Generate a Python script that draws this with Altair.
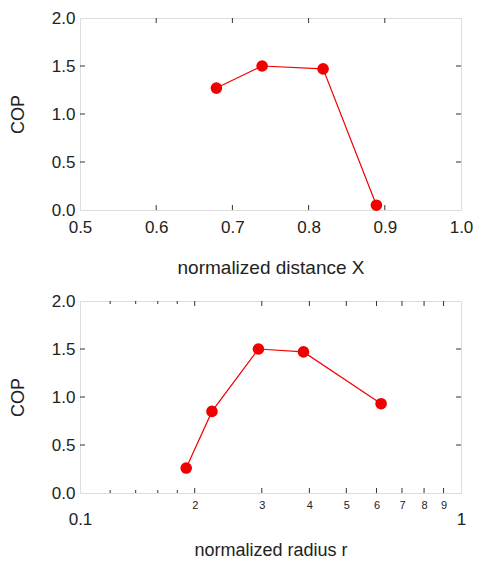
import altair as alt
import pandas as pd

# --- data ---
dist_x = [0.679, 0.739, 0.819, 0.889]
dist_cop = [1.27, 1.50, 1.47, 0.05]

rad_r = [0.190, 0.222, 0.294, 0.386, 0.617]
rad_cop = [0.26, 0.85, 1.50, 1.47, 0.93]

dist_tick_vals = [0.6, 0.7, 0.8, 0.9]
dist_label_vals = [0.5, 0.6, 0.7, 0.8, 0.9, 1.0]
y_tick_vals = [0.5, 1.0, 1.5]
y_label_vals = [0.0, 0.5, 1.0, 1.5, 2.0]
log_major = [0.2, 0.3, 0.4, 0.5, 0.6, 0.7, 0.8, 0.9]
log_minor = [0.12, 0.14, 0.16, 0.18]
log_label_vals = [0.1, 0.2, 0.3, 0.4, 0.5, 0.6, 0.7, 0.8, 0.9, 1.0]

W, H = 381, 192
RED = "#f00000"
FONT = "Liberation Sans"
TXT = "#222222"

y_scale = alt.Scale(domain=[0, 2], nice=False, zero=False)

y_axis = alt.Axis(title="COP", values=y_label_vals, format=".1f", domain=False,
                  ticks=False, tickSize=0, grid=False, labelFont=FONT,
                  labelFontSize=17, labelColor=TXT, labelPadding=5,
                  titleFont=FONT, titleFontSize=18, titleFontWeight="normal",
                  titleColor=TXT, titlePadding=24, labelFlush=False)


def tick_layers(xfield_vals, xscale, xaxis, major_len, minor_vals=None):
    layers = []
    xt = pd.DataFrame({"v": xfield_vals})
    for y0, y1 in [(H, H - major_len), (0, major_len)]:
        layers.append(
            alt.Chart(xt).mark_rule(color="#333", strokeWidth=1).encode(
                x=alt.X("v:Q", scale=xscale, axis=xaxis),
                y=alt.value(y0), y2=alt.value(y1)))
    if minor_vals:
        mt = pd.DataFrame({"v": minor_vals})
        for y0, y1 in [(H, H - 3), (0, 3)]:
            layers.append(
                alt.Chart(mt).mark_rule(color="#333", strokeWidth=1).encode(
                    x=alt.X("v:Q", scale=xscale, axis=xaxis),
                    y=alt.value(y0), y2=alt.value(y1)))
    yt = pd.DataFrame({"v": y_tick_vals})
    for x0, x1 in [(0, 5), (W, W - 5)]:
        layers.append(
            alt.Chart(yt).mark_rule(color="#333", strokeWidth=1).encode(
                y=alt.Y("v:Q", scale=y_scale, axis=y_axis),
                x=alt.value(x0), x2=alt.value(x1)))
    return layers


# ---- top panel ----
top_df = pd.DataFrame({"x": dist_x, "cop": dist_cop})
top_xscale = alt.Scale(domain=[0.5, 1.0], nice=False, zero=False)
top_xaxis = alt.Axis(title="normalized distance  X", values=dist_label_vals,
                     format=".1f", domain=False, ticks=False, tickSize=0,
                     grid=False, labelFont=FONT, labelFontSize=17,
                     labelColor=TXT, labelPadding=9, labelFlush=False,
                     labelOverlap=False, titleFont=FONT, titleFontSize=19,
                     titleFontWeight="normal", titleColor=TXT, titlePadding=23)
top_base = alt.Chart(top_df).encode(
    x=alt.X("x:Q", scale=top_xscale, axis=top_xaxis),
    y=alt.Y("cop:Q", scale=y_scale, axis=y_axis))
top = alt.layer(
    top_base.mark_line(color=RED, strokeWidth=1.2),
    *tick_layers(dist_tick_vals, top_xscale, top_xaxis, 5),
    top_base.mark_point(color=RED, filled=True, opacity=1, size=135),
).properties(width=W, height=H)

# ---- bottom panel ----
bot_df = pd.DataFrame({"r": rad_r, "cop": rad_cop})
bot_xscale = alt.Scale(type="log", domain=[0.1, 1.0], nice=False)
big = "datum.value < 0.15 || datum.value > 0.95"
bot_xaxis = alt.Axis(
    title="normalized radius r", values=log_label_vals,
    labelExpr="datum.value < 0.15 ? '0.1' : (datum.value > 0.95 ? '1' : format(round(datum.value * 10), 'd'))",
    domain=False, ticks=False, tickSize=0, grid=False, labelFont=FONT,
    labelFontSize={"condition": {"test": big, "value": 17}, "value": 11},
    labelPadding={"condition": {"test": big, "value": 18}, "value": 6},
    labelColor=TXT, labelFlush=False, labelOverlap=False, labelBound=False,
    titleFont=FONT, titleFontSize=18, titleFontWeight="normal",
    titleColor=TXT, titlePadding=14)
bot_base = alt.Chart(bot_df).encode(
    x=alt.X("r:Q", scale=bot_xscale, axis=bot_xaxis),
    y=alt.Y("cop:Q", scale=y_scale, axis=y_axis))
bottom = alt.layer(
    bot_base.mark_line(color=RED, strokeWidth=1.2),
    *tick_layers(log_major, bot_xscale, bot_xaxis, 5, log_minor),
    bot_base.mark_point(color=RED, filled=True, opacity=1, size=135),
).properties(width=W, height=H)

chart = alt.vconcat(top, bottom, spacing=13).properties(
    padding={"left": 0, "top": 0, "right": 0, "bottom": 0}
).configure_view(stroke="#444", strokeWidth=1).configure(background="white")

chart.save("out.html", embed_options={"renderer": "svg", "actions": False})
